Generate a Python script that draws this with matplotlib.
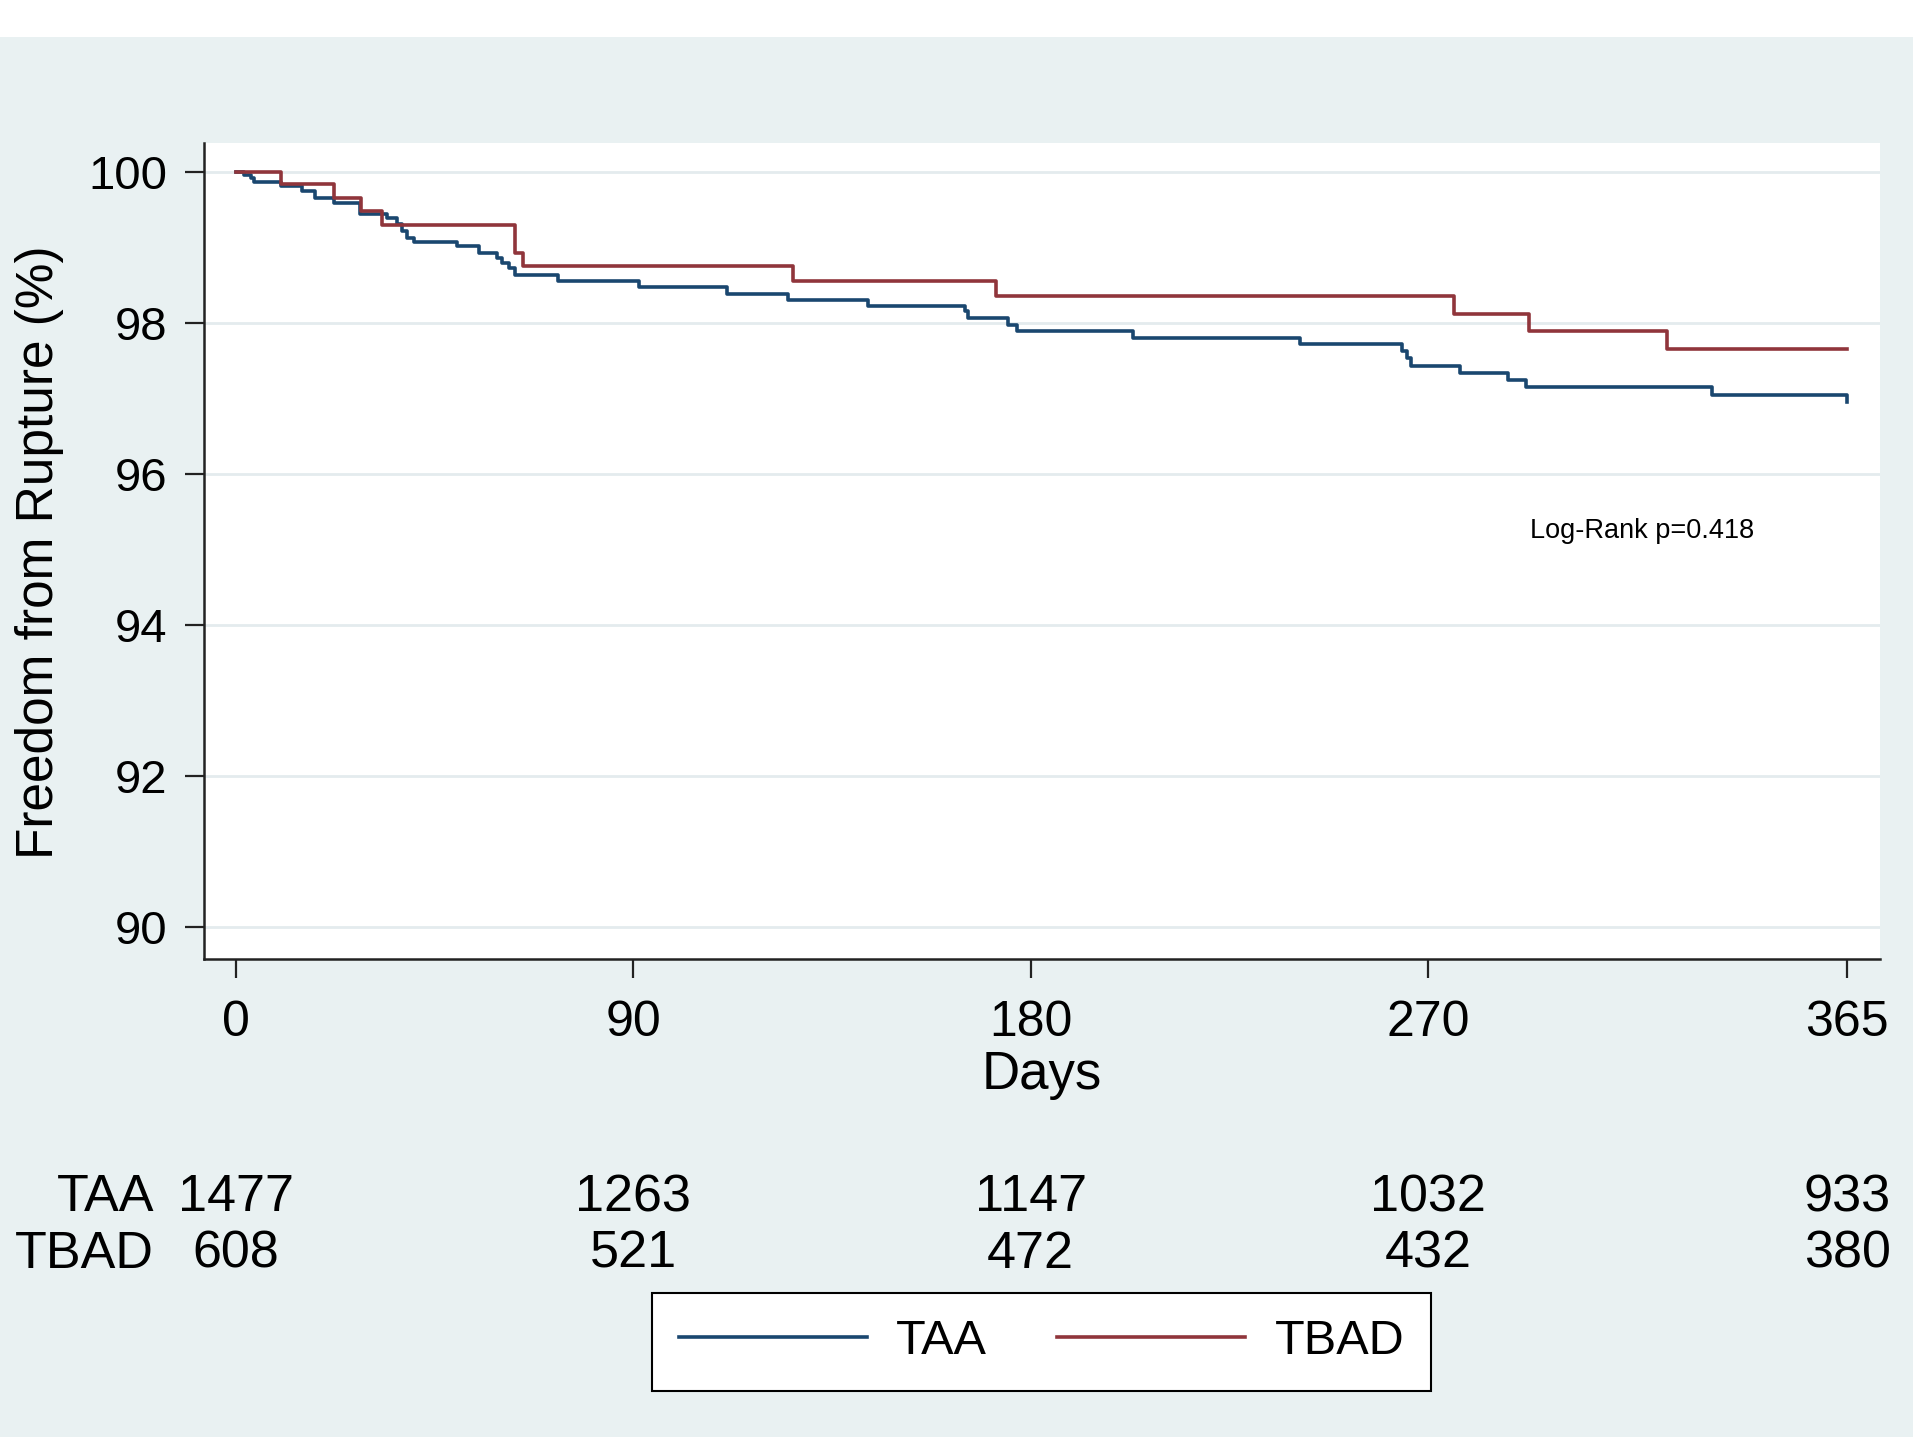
import matplotlib.pyplot as plt
from matplotlib.patches import Rectangle
from matplotlib.transforms import blended_transform_factory

# Kaplan-Meier steps (days, % free from rupture)
taa_days = [0, 1.8, 3.3, 4.0, 10.1, 15.0, 18.0, 22.2, 28.2, 34.2, 36.5, 37.6, 38.8,
            40.3, 50.1, 55.0, 59.2, 60.3, 61.8, 63.3, 72.9, 91.2, 111.2, 125.0,
            143.1, 165.2, 165.9, 174.9, 176.9, 203.2, 241.1, 264.1, 265.2, 266.2,
            277.2, 288.1, 292.1, 334.4, 365]
taa_surv = [100, 99.97, 99.93, 99.87, 99.82, 99.75, 99.66, 99.60, 99.45, 99.40, 99.31,
            99.22, 99.13, 99.08, 99.02, 98.93, 98.87, 98.80, 98.73, 98.64, 98.56,
            98.48, 98.39, 98.31, 98.23, 98.16, 98.07, 97.98, 97.90, 97.81, 97.72,
            97.63, 97.54, 97.44, 97.34, 97.25, 97.15, 97.05, 96.96]

tbad_days = [0, 10.1, 22.2, 28.4, 33.1, 63.3, 65.0, 126.2, 172.2, 275.9, 293.0, 324.2, 365]
tbad_surv = [100, 99.85, 99.66, 99.49, 99.30, 98.93, 98.76, 98.56, 98.36, 98.13,
             97.90, 97.66, 97.66]

x_ticks = [0, 90, 180, 270, 365]
y_ticks = [90, 92, 94, 96, 98, 100]

risk_groups = ["TAA", "TBAD"]
taa_at_risk = [1477, 1263, 1147, 1032, 933]
tbad_at_risk = [608, 521, 472, 432, 380]

log_rank_text = "Log-Rank p=0.418"

blue = "#1a476f"
red = "#90353b"
bg = "#e9f1f2"
W, H = 1913, 1437

plt.rcParams["font.family"] = ["Liberation Sans", "DejaVu Sans"]

fig = plt.figure(figsize=(W / 100, H / 100), dpi=100)
fig.patch.set_facecolor("white")
fig.patches.append(Rectangle((0, 0), 1, 1 - 37 / H, transform=fig.transFigure,
                             facecolor=bg, edgecolor="none", zorder=-10))

ax = fig.add_axes([204 / W, 1 - 959 / H, (1880 - 204) / W, (959 - 143) / H])
ax.set_facecolor("white")

l1, = ax.step(taa_days, taa_surv, where="post", color=blue, lw=2.6)
l2, = ax.step(tbad_days, tbad_surv, where="post", color=red, lw=2.6)

ax.set_xlim(-7.25, 372.4)
ax.set_ylim(89.575, 100.39)
ax.set_xticks(x_ticks)
ax.set_yticks(y_ticks)
ax.yaxis.grid(True, color="#e4ebee", lw=2)
ax.set_axisbelow(True)

for side in ["top", "right"]:
    ax.spines[side].set_visible(False)
for side in ["left", "bottom"]:
    ax.spines[side].set_color("#222222")
    ax.spines[side].set_linewidth(1.8)

ax.tick_params(axis="y", labelsize=34, length=13.7, width=1.6, pad=13, color="#222222")
ax.tick_params(axis="x", labelsize=36, length=13.7, width=1.6, pad=16, color="#222222")

ax.set_xlabel("Days", fontsize=38, va="baseline")
ax.xaxis.set_label_coords(0.5, -(1089 - 959) / 816)
ax.set_ylabel("Freedom from Rupture (%)", fontsize=37, va="center")
ax.yaxis.set_label_coords((39 - 204) / 1676, (959 - 552) / 816)

ax.text(293.2, 95.15, log_rank_text, fontsize=19.5, va="baseline")

# numbers at risk under the x axis
trans = blended_transform_factory(ax.transData, fig.transFigure)
rows = [taa_at_risk, tbad_at_risk]
row_y = [1 - 1211 / H, 1 - 1268 / H]
for name, vals, y in zip(risk_groups, rows, row_y):
    fig.text(154 / W, y, name, fontsize=37.5, ha="right", va="baseline")
    for d, n in zip(x_ticks, vals):
        ax.text(d, y, str(n), transform=trans, fontsize=37.5, ha="center", va="baseline")

leg = ax.legend([l1, l2], risk_groups, loc="center", ncol=2,
                bbox_to_anchor=(1041.5 / W, 95 / H), bbox_transform=fig.transFigure,
                fontsize=35, frameon=True, fancybox=False, edgecolor="black",
                handlelength=3.87, handletextpad=0.6, columnspacing=1.45, borderpad=0.55)
leg.get_frame().set_linewidth(1.5)
leg.get_frame().set_alpha(1)

fig.savefig("out.png", dpi=100)
